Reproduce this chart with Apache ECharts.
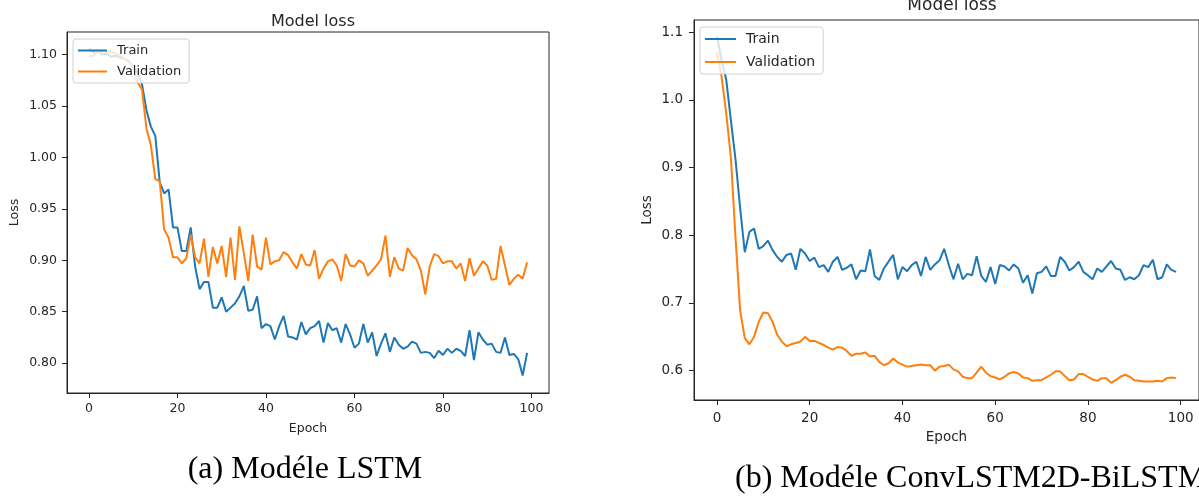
<!DOCTYPE html>
<html>
<head>
<meta charset="utf-8">
<script src="https://cdn.jsdelivr.net/npm/echarts@6/dist/echarts.min.js"></script>
<style>
  html, body { margin: 0; padding: 0; background: #fff; }
  #chart { width: 1199px; height: 502px; }
</style>
</head>
<body>
<div id="chart"></div>
<script>
// epochs 0..99
const epochs = Array.from({ length: 100 }, (_, i) => i)

// (a) LSTM
const lstmTrain = [
  1.106, 1.102, 1.104, 1.100, 1.101, 1.098, 1.099, 1.097, 1.096, 1.094,
  1.088, 1.082, 1.071, 1.046, 1.030, 1.021, 0.976, 0.965, 0.969, 0.932,
  0.932, 0.909, 0.909, 0.932, 0.894, 0.872, 0.879, 0.879, 0.854, 0.854,
  0.864, 0.850, 0.854, 0.858, 0.865, 0.875, 0.851, 0.852, 0.865, 0.834,
  0.838, 0.836, 0.823, 0.836, 0.846, 0.826, 0.825, 0.823, 0.840, 0.828,
  0.834, 0.836, 0.841, 0.820, 0.839, 0.832, 0.834, 0.820, 0.838, 0.828,
  0.815, 0.819, 0.838, 0.820, 0.830, 0.807, 0.819, 0.829, 0.811, 0.825,
  0.818, 0.814, 0.816, 0.821, 0.819, 0.810, 0.811, 0.810, 0.805, 0.812,
  0.808, 0.814, 0.810, 0.814, 0.812, 0.807, 0.832, 0.803, 0.830, 0.823,
  0.818, 0.819, 0.811, 0.810, 0.825, 0.808, 0.809, 0.804, 0.788, 0.810
]
const lstmVal = [
  1.098, 1.099, 1.103, 1.103, 1.103, 1.103, 1.101, 1.099, 1.096, 1.093,
  1.088, 1.073, 1.066, 1.028, 1.012, 0.979, 0.977, 0.930, 0.922, 0.903,
  0.903, 0.897, 0.902, 0.925, 0.903, 0.897, 0.921, 0.884, 0.913, 0.897,
  0.914, 0.884, 0.922, 0.881, 0.933, 0.907, 0.880, 0.925, 0.894, 0.891,
  0.922, 0.896, 0.899, 0.900, 0.908, 0.905, 0.898, 0.892, 0.906, 0.896,
  0.895, 0.910, 0.882, 0.892, 0.899, 0.901, 0.895, 0.880, 0.906, 0.895,
  0.894, 0.900, 0.897, 0.885, 0.890, 0.895, 0.901, 0.924, 0.884, 0.903,
  0.892, 0.890, 0.912, 0.905, 0.901, 0.890, 0.867, 0.894, 0.906, 0.904,
  0.897, 0.899, 0.899, 0.892, 0.897, 0.880, 0.902, 0.885, 0.892, 0.899,
  0.895, 0.881, 0.882, 0.914, 0.895, 0.876, 0.882, 0.886, 0.882, 0.898
]

// (b) ConvLSTM2D-BiLSTM
const convTrain = [
  1.094, 1.059, 1.030, 0.970, 0.912, 0.840, 0.775, 0.805, 0.810, 0.780,
  0.784, 0.792, 0.778, 0.768, 0.761, 0.771, 0.773, 0.749, 0.780, 0.773,
  0.762, 0.767, 0.753, 0.756, 0.746, 0.761, 0.768, 0.749, 0.752, 0.757,
  0.735, 0.748, 0.747, 0.779, 0.740, 0.734, 0.751, 0.761, 0.771, 0.735,
  0.753, 0.747, 0.756, 0.761, 0.740, 0.768, 0.749, 0.757, 0.763, 0.780,
  0.756, 0.735, 0.758, 0.735, 0.743, 0.741, 0.769, 0.740, 0.731, 0.753,
  0.728, 0.756, 0.754, 0.748, 0.757, 0.751, 0.730, 0.741, 0.714, 0.744,
  0.746, 0.754, 0.740, 0.740, 0.768, 0.761, 0.748, 0.753, 0.761, 0.746,
  0.741, 0.735, 0.751, 0.746, 0.754, 0.762, 0.751, 0.749, 0.734, 0.738,
  0.735, 0.741, 0.756, 0.753, 0.764, 0.735, 0.738, 0.757, 0.749, 0.746
]
const convVal = [
  1.071, 1.034, 0.980, 0.915, 0.797, 0.689, 0.648, 0.639, 0.650, 0.672,
  0.686, 0.685, 0.672, 0.653, 0.643, 0.636, 0.639, 0.641, 0.643, 0.650,
  0.644, 0.644, 0.641, 0.638, 0.634, 0.631, 0.635, 0.634, 0.629, 0.622,
  0.625, 0.625, 0.627, 0.621, 0.622, 0.613, 0.608, 0.611, 0.618, 0.612,
  0.609, 0.606, 0.607, 0.608, 0.609, 0.608, 0.608, 0.600, 0.606, 0.607,
  0.609, 0.602, 0.599, 0.591, 0.589, 0.589, 0.597, 0.606, 0.597, 0.592,
  0.590, 0.587, 0.591, 0.596, 0.598, 0.596, 0.590, 0.589, 0.585, 0.586,
  0.586, 0.590, 0.594, 0.599, 0.599, 0.592, 0.586, 0.587, 0.595, 0.595,
  0.591, 0.587, 0.585, 0.589, 0.589, 0.582, 0.586, 0.591, 0.594, 0.591,
  0.586, 0.585, 0.584, 0.584, 0.584, 0.585, 0.584, 0.589, 0.590, 0.589
]

// tick labels
const xTicks = [0, 20, 40, 60, 80, 100]
const yTicksA = [0.80, 0.85, 0.90, 0.95, 1.00, 1.05, 1.10]
const yTicksB = [0.6, 0.7, 0.8, 0.9, 1.0, 1.1]

const BLUE = '#1f77b4'
const ORANGE = '#ff7f0e'
const INK = '#262626'
const FONT = 'DejaVu Sans'

const pairs = (arr) => epochs.map((e, i) => [e, arr[i]])

// axes helpers
const makeX = (gridIndex, fs, margin, nameGap) => ({
  gridIndex,
  type: 'value',
  min: -4.95,
  max: 103.95,
  axisLine: { show: true, onZero: false, lineStyle: { color: INK, width: 1 } },
  axisTick: { show: true, customValues: xTicks, length: 5, lineStyle: { color: INK } },
  axisLabel: { customValues: xTicks, fontSize: fs, color: INK, fontFamily: FONT, margin },
  splitLine: { show: false },
  name: 'Epoch',
  nameLocation: 'middle',
  nameGap,
  nameTextStyle: { fontSize: fs, color: INK, fontFamily: FONT }
})

const makeY = (gridIndex, min, max, ticks, digits, fs, margin, nameGap) => ({
  gridIndex,
  type: 'value',
  min,
  max,
  axisLine: { show: true, onZero: false, lineStyle: { color: INK, width: 1 } },
  axisTick: { show: true, customValues: ticks, length: 5, lineStyle: { color: INK } },
  axisLabel: {
    customValues: ticks,
    fontSize: fs,
    color: INK,
    fontFamily: FONT,
    margin,
    formatter: (v) => Number(v).toFixed(digits)
  },
  splitLine: { show: false },
  name: 'Loss',
  nameLocation: 'middle',
  nameRotate: 90,
  nameGap,
  nameTextStyle: { fontSize: fs, color: INK, fontFamily: FONT }
})

const makeLegend = (left, top, fs, iw, gap) => ({
  orient: 'vertical',
  left,
  top,
  data: ['Train', 'Validation'],
  icon: 'rect',
  itemWidth: iw,
  itemHeight: 2,
  itemGap: gap,
  padding: [5, 8, 5, 5],
  backgroundColor: 'rgba(255,255,255,0.8)',
  borderColor: '#d0d0d0',
  borderWidth: 1,
  borderRadius: 3,
  textStyle: { fontSize: fs, color: INK, fontFamily: FONT, padding: [0, 0, 0, 5] }
})

const makeLine = (name, data, color, xi) => ({
  name,
  type: 'line',
  xAxisIndex: xi,
  yAxisIndex: xi,
  data: pairs(data),
  symbol: 'none',
  showSymbol: false,
  lineStyle: { width: 2, color },
  itemStyle: { color }
})

const chart = echarts.init(document.getElementById('chart'))

const option = {
  animation: false,
  title: [
    {
      text: 'Model loss',
      left: 308,
      top: 9,
      textAlign: 'center',
      textStyle: { fontSize: 16, fontWeight: 'normal', color: INK, fontFamily: FONT }
    },
    {
      text: 'Model loss',
      left: 947,
      top: -8,
      textAlign: 'center',
      textStyle: { fontSize: 17, fontWeight: 'normal', color: INK, fontFamily: FONT }
    }
  ],
  legend: [
    makeLegend(73, 39, 13, 29, 8),
    makeLegend(700, 27, 14, 31, 9)
  ],
  grid: [
    { left: 67, top: 32, width: 482, height: 361, show: true, borderColor: INK, borderWidth: 1 },
    { left: 694, top: 20, width: 507, height: 380, show: true, borderColor: INK, borderWidth: 1 }
  ],
  xAxis: [
    makeX(0, 12.5, 9, 29),
    makeX(1, 13.5, 11, 30)
  ],
  yAxis: [
    makeY(0, 0.771, 1.122, yTicksA, 2, 12.5, 10, 46),
    makeY(1, 0.5567, 1.118, yTicksB, 1, 13.5, 11, 40)
  ],
  series: [
    makeLine('Train', lstmTrain, BLUE, 0),
    makeLine('Validation', lstmVal, ORANGE, 0),
    makeLine('Train', convTrain, BLUE, 1),
    makeLine('Validation', convVal, ORANGE, 1)
  ],
  graphic: [
    {
      type: 'text',
      x: 305,
      y: 470,
      style: {
        text: '(a) Modéle LSTM',
        font: '32px "Liberation Serif"',
        fill: '#000',
        textAlign: 'center',
        textVerticalAlign: 'middle'
      }
    },
    {
      type: 'text',
      x: 735,
      y: 479,
      style: {
        text: '(b) Modéle ConvLSTM2D-BiLSTM',
        font: '32px "Liberation Serif"',
        fill: '#000',
        textAlign: 'left',
        textVerticalAlign: 'middle'
      }
    }
  ]
}

chart.setOption(option)
window.addEventListener('resize', () => chart.resize())
</script>
</body>
</html>
